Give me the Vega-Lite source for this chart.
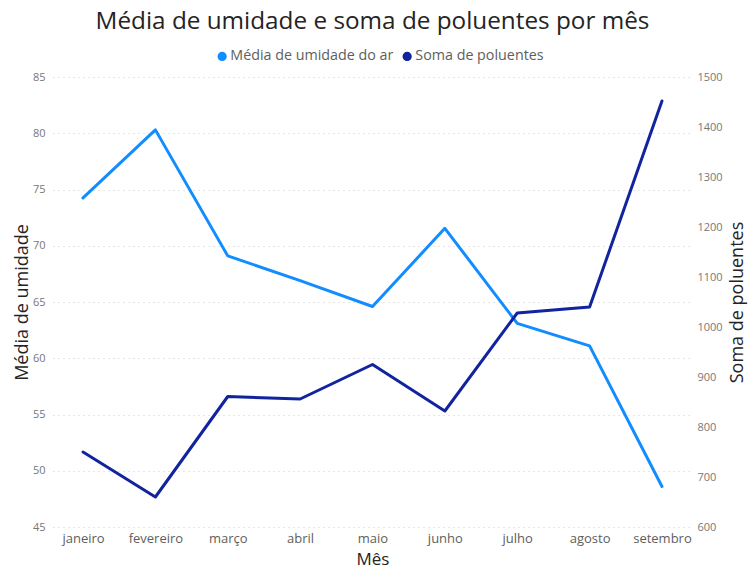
{
  "$schema": "https://vega.github.io/schema/vega-lite/v6.json",
  "width": 639,
  "height": 450,
  "autosize": {"type": "none"},
  "padding": {"left": 53, "top": 77, "right": 58, "bottom": 42},
  "background": "white",
  "title": {
    "text": "Média de umidade e soma de poluentes por mês",
    "anchor": "middle",
    "frame": "group",
    "font": "Open Sans",
    "fontSize": 24.3,
    "fontWeight": "normal",
    "color": "#252423",
    "offset": 15
  },
  "config": {
    "view": {"stroke": null},
    "axis": {
      "labelFont": "Open Sans",
      "titleFont": "Open Sans",
      "titleFontWeight": "normal",
      "titleColor": "#252423",
      "labelColor": "#777777",
      "domain": false,
      "ticks": false
    }
  },
  "data": {
    "values": [
      {"mes": "janeiro", "umidade": 74.25, "poluentes": 750},
      {"mes": "fevereiro", "umidade": 80.3, "poluentes": 660},
      {"mes": "março", "umidade": 69.1, "poluentes": 861},
      {"mes": "abril", "umidade": 66.9, "poluentes": 856},
      {"mes": "maio", "umidade": 64.6, "poluentes": 925},
      {"mes": "junho", "umidade": 71.55, "poluentes": 832},
      {"mes": "julho", "umidade": 63.1, "poluentes": 1028},
      {"mes": "agosto", "umidade": 61.1, "poluentes": 1040},
      {"mes": "setembro", "umidade": 48.6, "poluentes": 1452}
    ]
  },
  "encoding": {
    "x": {
      "field": "mes",
      "type": "ordinal",
      "sort": null,
      "scale": {"type": "point", "padding": 0.415},
      "axis": {
        "title": "Mês",
        "titleFontSize": 17,
        "titlePadding": 6,
        "labelFontSize": 13,
        "labelAngle": 0,
        "labelPadding": 5,
        "labelColor": "#605E5C",
        "grid": false
      }
    }
  },
  "layer": [
    {
      "mark": {"type": "line", "strokeWidth": 3, "strokeCap": "round", "strokeJoin": "round"},
      "encoding": {
        "y": {
          "field": "umidade",
          "type": "quantitative",
          "scale": {"domain": [45, 85], "nice": false, "zero": false},
          "axis": {
            "orient": "left",
            "title": "Média de umidade",
            "titleFontSize": 18,
            "titlePadding": 1,
            "values": [45, 50, 55, 60, 65, 70, 75, 80, 85],
            "labelFontSize": 11,
            "labelPadding": 8,
            "grid": true,
            "gridColor": "#cccccc",
            "gridDash": [1, 4],
            "gridWidth": 1
          }
        },
        "color": {
          "datum": "Média de umidade do ar",
          "type": "nominal",
          "scale": {
            "domain": ["Média de umidade do ar", "Soma de poluentes"],
            "range": ["#118DFF", "#12239E"]
          },
          "legend": {
            "title": null,
            "orient": "none",
            "direction": "horizontal",
            "legendX": 162,
            "legendY": -28,
            "symbolType": "circle",
            "symbolSize": 60,
            "labelFont": "Open Sans",
            "labelFontSize": 14.3,
            "labelLimit": 400,
            "labelColor": "#605E5C",
            "labelOffset": 1,
            "columnPadding": 6,
            "encode": {
              "symbols": {
                "update": {
                  "fill": {"scale": "color", "field": "value"},
                  "stroke": {"value": "transparent"}
                }
              }
            }
          }
        }
      }
    },
    {
      "mark": {"type": "line", "strokeWidth": 3, "strokeCap": "round", "strokeJoin": "round"},
      "encoding": {
        "y": {
          "field": "poluentes",
          "type": "quantitative",
          "scale": {"domain": [600, 1500], "nice": false, "zero": false},
          "axis": {
            "orient": "right",
            "title": "Soma de poluentes",
            "titleFontSize": 18,
            "titleAngle": 270,
            "titlePadding": 24,
            "format": "d",
            "values": [600, 700, 800, 900, 1000, 1100, 1200, 1300, 1400, 1500],
            "labelFontSize": 11,
            "labelPadding": 5,
            "grid": false
          }
        },
        "color": {"datum": "Soma de poluentes", "type": "nominal"}
      }
    }
  ],
  "resolve": {"scale": {"y": "independent"}}
}
